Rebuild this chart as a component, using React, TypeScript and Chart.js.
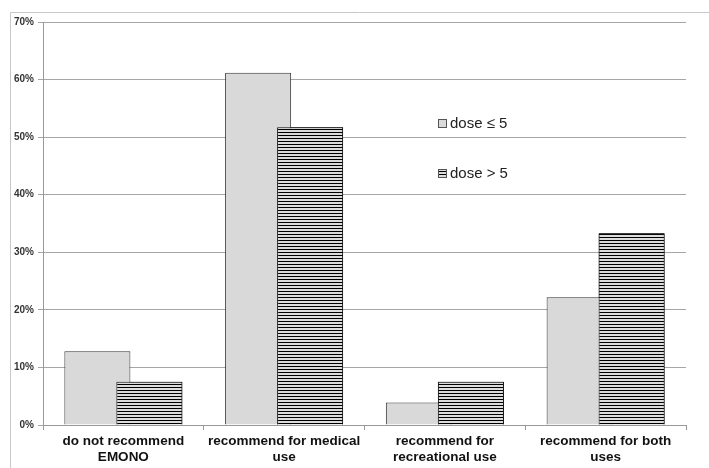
import React, { useEffect, useRef } from "react";
import { Chart, registerables } from "chart.js";

Chart.register(...registerables);

const categories: string[][] = [
  ["do not recommend", "EMONO"],
  ["recommend for medical", "use"],
  ["recommend for", "recreational use"],
  ["recommend for both", "uses"],
];
const seriesLabels = ["dose \u2264 5", "dose > 5"];
const lowDose = [12.8, 61.2, 3.9, 22.2];
const highDose = [7.5, 51.7, 7.5, 33.3];
const yTicks = [0, 10, 20, 30, 40, 50, 60, 70];

const FONT = "'Liberation Sans', Arial, sans-serif";

function makeStripePattern(): CanvasPattern | string {
  const c = document.createElement("canvas");
  c.width = 4;
  c.height = 3;
  const g = c.getContext("2d");
  if (!g) return "#888";
  g.fillStyle = "#dcdcdc";
  g.fillRect(0, 0, 4, 3);
  g.fillStyle = "#000";
  g.fillRect(0, 0, 4, 1);
  const p = g.createPattern(c, "repeat");
  return p || "#888";
}

export default function App() {
  const ref = useRef<HTMLCanvasElement | null>(null);

  useEffect(() => {
    if (!ref.current) return;
    const stripe = makeStripePattern();

    const frame = {
      id: "frame",
      beforeDraw(chart: any) {
        const ctx = chart.ctx;
        ctx.save();
        ctx.strokeStyle = "#c8c8c8";
        ctx.lineWidth = 1;
        ctx.beginPath();
        ctx.moveTo(10.5, chart.height);
        ctx.lineTo(10.5, 12.5);
        ctx.lineTo(chart.width, 12.5);
        ctx.stroke();
        ctx.restore();
      },
    };

    // draw the second series again so it overlaps the first, as in the original
    const overlapOnTop = {
      id: "overlapOnTop",
      afterDatasetsDraw(chart: any) {
        const meta = chart.getDatasetMeta(1);
        const ctx = chart.ctx;
        ctx.save();
        meta.data.forEach((el: any) => el.draw(ctx, chart.chartArea));
        ctx.restore();
      },
    };

    const legendInside = {
      id: "legendInside",
      afterDraw(chart: any) {
        const ctx = chart.ctx;
        const items = [
          { y: 124, fill: "#d9d9d9" as any },
          { y: 174, fill: stripe as any },
        ];
        ctx.save();
        ctx.font = `15px ${FONT}`;
        ctx.textBaseline = "middle";
        items.forEach((it, i) => {
          ctx.fillStyle = it.fill;
          ctx.fillRect(439, it.y - 4, 7, 8);
          ctx.strokeStyle = "#555";
          ctx.lineWidth = 1;
          ctx.strokeRect(438.5, it.y - 4.5, 8, 8);
          ctx.fillStyle = "#222";
          ctx.fillText(chart.data.datasets[i].label, 450, it.y);
        });
        ctx.restore();
      },
    };

    const chart = new Chart(ref.current, {
      type: "bar",
      data: {
        labels: categories,
        datasets: [
          {
            label: seriesLabels[0],
            data: lowDose,
            backgroundColor: "#d9d9d9",
            borderColor: "#333",
            borderWidth: 1,
            categoryPercentage: 0.647,
            barPercentage: 1.27,
          },
          {
            label: seriesLabels[1],
            data: highDose,
            backgroundColor: stripe as any,
            borderColor: "#111",
            borderWidth: 1,
            categoryPercentage: 0.647,
            barPercentage: 1.27,
          },
        ],
      },
      options: {
        animation: false,
        responsive: false,
        devicePixelRatio: 1,
        layout: { padding: { top: 22, right: 23, left: 0, bottom: 0 } },
        plugins: {
          legend: { display: false },
          tooltip: { enabled: false },
        },
        scales: {
          x: {
            grid: {
              display: true,
              drawOnChartArea: false,
              drawTicks: true,
              tickLength: 5,
              offset: true,
              color: "#999",
            },
            border: { color: "#999" },
            ticks: {
              color: "#111",
              font: { family: FONT, size: 13.5, weight: "bold" },
              padding: 3,
              maxRotation: 0,
              autoSkip: false,
            },
            afterFit(scale: any) {
              scale.height = 43;
            },
          },
          y: {
            min: 0,
            max: 70,
            afterBuildTicks(scale: any) {
              scale.ticks = yTicks.map((v) => ({ value: v }));
            },
            grid: { color: "#a6a6a6", tickLength: 5, drawTicks: true },
            border: { color: "#999" },
            ticks: {
              color: "#333",
              font: { family: FONT, size: 10, weight: "bold" },
              padding: 4,
              callback: (v: any) => `${v}%`,
            },
            afterFit(scale: any) {
              scale.width = 43;
            },
          },
        },
      },
      plugins: [frame, overlapOnTop, legendInside],
    });
    return () => chart.destroy();
  }, []);

  return (
    <div style={{ position: "fixed", left: 0, top: 0, width: 709, height: 468, background: "#fff" }}>
      <canvas ref={ref} width={709} height={468} />
    </div>
  );
}
